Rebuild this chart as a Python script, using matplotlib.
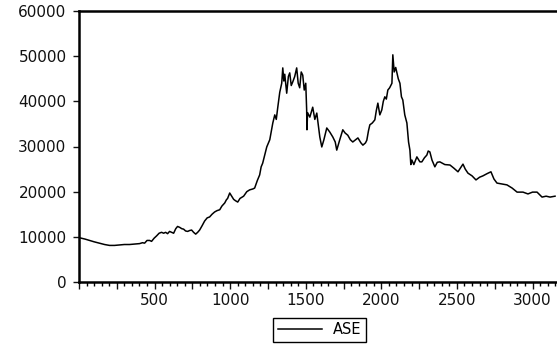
import matplotlib
matplotlib.use("Agg")
import matplotlib.pyplot as plt
from matplotlib.ticker import MultipleLocator, FuncFormatter

obs = [3, 40, 70, 100, 136, 169, 202, 235, 268, 300, 334, 370, 401, 420, 434, 450, 467, 480,
       497, 513, 530, 546, 560, 573, 586, 599, 612, 626, 640, 652, 666, 680, 692, 705, 719,
       732, 745, 758, 772, 785, 798, 815, 831, 848, 864, 880, 897, 913, 931, 945, 964, 975,
       983, 997, 1010, 1023, 1035, 1050, 1065, 1089, 1110, 1129, 1150, 1162, 1180, 1195,
       1205, 1215, 1228, 1242, 1262, 1270, 1282, 1295, 1305, 1315, 1328, 1341, 1348, 1355,
       1361, 1374, 1385, 1394, 1404, 1414, 1427, 1440, 1450, 1460, 1470, 1480, 1490, 1500,
       1506, 1508, 1512, 1527, 1546, 1560, 1573, 1593, 1606, 1620, 1639, 1659, 1679, 1695,
       1705, 1725, 1745, 1760, 1778, 1795, 1811, 1830, 1845, 1865, 1878, 1895, 1904, 1915,
       1924, 1940, 1957, 1967, 1977, 1990, 2003, 2013, 2023, 2033, 2043, 2055, 2070, 2076,
       2085, 2095, 2103, 2112, 2123, 2133, 2142, 2155, 2169, 2180, 2189, 2195, 2202, 2215,
       2235, 2255, 2268, 2285, 2301, 2310, 2321, 2335, 2354, 2370, 2387, 2420, 2454, 2480,
       2507, 2540, 2555, 2573, 2600, 2626, 2650, 2672, 2700, 2725, 2745, 2765, 2800, 2831,
       2865, 2898, 2937, 2970, 3000, 3030, 3063, 3090, 3116, 3149]
ase = [9800, 9500, 9200, 8900, 8600, 8300, 8100, 8100, 8200, 8300, 8300, 8400, 8500, 8700,
       8600, 9200, 9200, 9000, 9700, 10200, 10800, 11000, 10800, 11000, 10700, 11200, 11000,
       10800, 11800, 12300, 12100, 11800, 11700, 11300, 11200, 11400, 11500, 11000, 10600,
       11000, 11500, 12500, 13500, 14200, 14400, 15000, 15500, 15800, 16000, 16800, 17500,
       18200, 18500, 19700, 19000, 18300, 18000, 17700, 18500, 19000, 20000, 20400, 20600,
       20800, 22500, 23700, 25500, 26300, 28000, 29900, 31500, 33000, 35200, 37000, 36000,
       38700, 42000, 44000, 47400, 44500, 46000, 41800, 45500, 46300, 43500, 44300, 45500,
       47400, 44000, 43000, 46500, 45800, 42500, 44000, 38100, 33700, 37500, 36500, 38700,
       36000, 37400, 32100, 29900, 31500, 34100, 33200, 32100, 31000, 29200, 31500, 33700,
       33000, 32500, 31500, 31000, 31500, 31900, 30800, 30300, 30800, 31400, 33500, 34800,
       35200, 35900, 38000, 39600, 37000, 38100, 40000, 41000, 40500, 42500, 43000, 44000,
       50300, 46500, 47500, 46300, 45000, 44000, 41000, 40300, 37000, 35200, 31000, 29200,
       26000, 27000, 26000, 27700, 26600, 26600, 27500, 28100, 29000, 28800, 27000, 25500,
       26500, 26600, 26000, 25900, 25200, 24400, 26100, 25000, 24100, 23500, 22600, 23200,
       23500, 24000, 24400, 22800, 21900, 21700, 21500, 20800, 19900, 19900, 19500, 19900,
       19900, 18800, 19000, 18800, 19000]

plt.rcParams['font.family'] = ['DejaVu Sans']

fig = plt.figure(figsize=(5.57, 3.48), dpi=100)
ax = fig.add_axes([79 / 557, 1 - 282 / 348, 1 - 79 / 557, (282 - 11) / 348])

line, = ax.plot(obs, ase, color='black', lw=1.1, label='ASE')

ax.set_xlim(0, 3162)
ax.set_ylim(0, 60000)
ax.set_yticks(range(0, 60001, 10000))
ax.xaxis.set_major_locator(MultipleLocator(250))
ax.xaxis.set_minor_locator(MultipleLocator(50))
ax.xaxis.set_major_formatter(FuncFormatter(lambda v, p: '%d' % v if v % 500 == 0 and v > 0 else ''))

ax.tick_params(axis='y', direction='out', length=4, width=1, pad=5, labelsize=11, colors='#111111')
ax.tick_params(axis='x', which='major', direction='out', length=5, width=1, pad=3, labelsize=11, colors='#111111')
ax.tick_params(axis='x', which='minor', direction='out', length=3, width=1)

for s in ['left', 'bottom', 'top']:
    ax.spines[s].set_linewidth(1.8)
ax.spines['right'].set_visible(False)

leg = fig.legend(handles=[line], loc='center', bbox_to_anchor=(0.574, 0.052),
                 fancybox=False, edgecolor='black', framealpha=1, fontsize=10.5,
                 handlelength=3, borderpad=0.3)
leg.get_frame().set_linewidth(1.0)

fig.savefig('out.png', dpi=100)
